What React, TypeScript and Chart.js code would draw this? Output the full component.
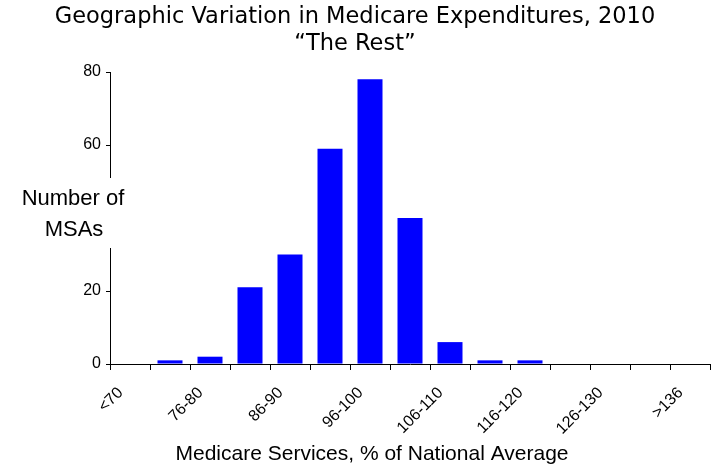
import { useEffect, useRef } from "react"
import { Chart, registerables } from "chart.js"

Chart.register(...registerables)

const categories = [
  "<70", "71-75", "76-80", "81-85", "86-90", "91-95", "96-100", "101-105",
  "106-110", "111-115", "116-120", "121-125", "126-130", "131-135", ">136",
]
const msaCounts = [0, 1, 2, 21, 30, 59, 78, 40, 6, 1, 1, 0, 0, 0, 0]
const yTicks = [0, 20, 40, 60, 80]

const titleLines = ["Geographic Variation in Medicare Expenditures, 2010", "\u201CThe Rest\u201D"]
const yLabelLines = ["Number of", "MSAs"]
const xLabel = "Medicare Services, % of National Average"

const sans = "'Liberation Sans', Arial, sans-serif"

// y title sits in a white box over the axis, x title is left of centre
const axisText = {
  id: "axisText",
  afterDraw(chart: Chart) {
    const { ctx, chartArea } = chart
    const y = chart.scales.y
    const mid = y.getPixelForValue(40)
    ctx.save()
    ctx.fillStyle = "#fff"
    ctx.fillRect(0, mid - 40, y.right + 2, 70)
    ctx.fillStyle = "#000"
    ctx.font = "22px " + sans
    ctx.textAlign = "center"
    ctx.textBaseline = "middle"
    ctx.fillText(yLabelLines[0], 73, mid - 19)
    ctx.fillText(yLabelLines[1], 74, mid + 12)
    ctx.font = "21px " + sans
    ctx.fillText(xLabel, (chartArea.left + chartArea.right) / 2 - 38, chart.height - 17)
    ctx.restore()
  },
}

export default function App() {
  const chartRef = useRef<HTMLCanvasElement>(null)
  const chartInstance = useRef<Chart | null>(null)

  useEffect(() => {
    document.body.style.margin = "0"
    if (chartRef.current) {
      if (chartInstance.current) {
        chartInstance.current.destroy()
      }
      const ctx = chartRef.current.getContext("2d")
      if (ctx) {
        chartInstance.current = new Chart(ctx, {
          type: "bar",
          data: {
            labels: categories,
            datasets: [
              {
                data: msaCounts,
                backgroundColor: "#0000FF",
                barPercentage: 0.625,
                categoryPercentage: 1,
              },
            ],
          },
          options: {
            animation: false,
            responsive: true,
            maintainAspectRatio: false,
            layout: { padding: { left: 0, right: 4, top: 0, bottom: 0 } },
            plugins: {
              legend: { display: false },
              tooltip: { enabled: false },
              title: {
                display: true,
                text: titleLines,
                color: "#000",
                font: { family: "'DejaVu Sans', sans-serif", size: 22.5, weight: "normal", lineHeight: 1.2 },
                padding: { top: 4, bottom: 14 },
              },
            },
            scales: {
              x: {
                afterFit: (scale) => {
                  scale.height = 107
                },
                grid: {
                  display: true,
                  drawOnChartArea: false,
                  drawTicks: true,
                  tickLength: 6,
                  color: "#000",
                  offset: true,
                },
                border: { display: true, color: "#000", width: 1 },
                ticks: {
                  autoSkip: false,
                  maxRotation: 45,
                  minRotation: 45,
                  color: "#000",
                  padding: 4,
                  font: { family: sans, size: 16 },
                  // trailing spaces push the rotated labels down-left like the original
                  callback: (_v, i) => (i % 2 === 0 ? categories[i] + "   " : ""),
                },
              },
              y: {
                min: 0,
                max: 80,
                afterFit: (scale) => {
                  scale.width = 110
                },
                afterBuildTicks: (scale) => {
                  scale.ticks = yTicks.map((v) => ({ value: v }))
                },
                grid: {
                  display: true,
                  drawOnChartArea: false,
                  drawTicks: true,
                  tickLength: 4,
                  color: "#000",
                },
                border: { display: true, color: "#000", width: 1 },
                ticks: {
                  color: "#000",
                  padding: 5,
                  font: { family: sans, size: 16 },
                },
              },
            },
          },
          plugins: [axisText],
        })
      }
    }

    return () => {
      if (chartInstance.current) {
        chartInstance.current.destroy()
      }
    }
  }, [])

  return (
    <div style={{ position: "relative", width: 714, height: 471, background: "#fff" }}>
      <canvas ref={chartRef} />
    </div>
  )
}
